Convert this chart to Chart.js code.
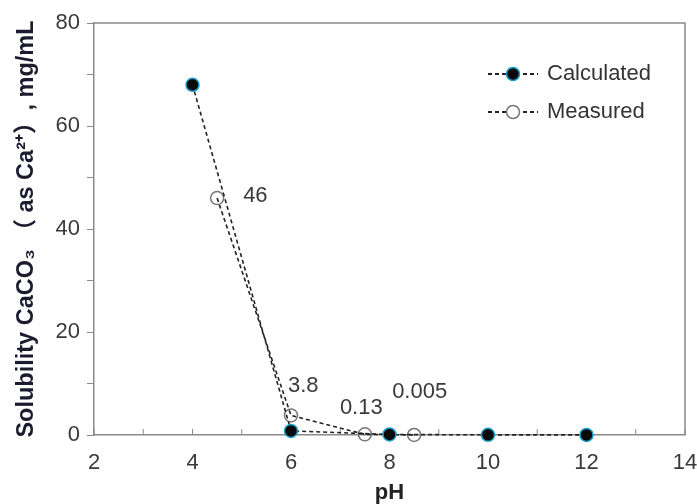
<!DOCTYPE html>
<html>
<head>
<meta charset="utf-8">
<script src="https://cdn.jsdelivr.net/npm/chart.js@4.4.0/dist/chart.umd.min.js"></script>
<style>
html,body{margin:0;padding:0;background:#fff;}
#wrap{width:697px;height:504px;position:relative;}
</style>
</head>
<body>
<div id="wrap"><canvas id="c" width="697" height="504"></canvas></div>
<script>
// ---- data ----
const calcPH = [4, 6, 8, 10, 12];
const calcSol = [68, 0.8, 0.1, 0.03, 0.02];
const measPH = [4.5, 6, 7.5, 8.5];
const measSol = [46, 3.8, 0.13, 0.005];
const measLabels = ['46', '3.8', '0.13', '0.005'];
const seriesNames = ['Calculated', 'Measured'];
const yTickValues = [0, 20, 40, 60, 80];
const xTickValues = [2, 4, 6, 8, 10, 12, 14];

const FONT = "'Liberation Sans', Arial, 'Noto Sans CJK SC', sans-serif";
const TXT = '#3a3a3a';
const AXIS = '#8a8a8a';

const toXY = (xs, ys) => xs.map((x, i) => ({x: x, y: ys[i]}));

// label offsets (dx, dy from point, left-aligned text centre)
const labelOffsets = [[26, -2], [-3, -29], [-25, -26], [-22, -43]];

const labelPlugin = {
  id: 'pointLabels',
  afterDatasetsDraw(chart) {
    const meta = chart.getDatasetMeta(1);
    const ctx = chart.ctx;
    ctx.save();
    ctx.font = '22px ' + FONT;
    ctx.fillStyle = TXT;
    ctx.textAlign = 'left';
    ctx.textBaseline = 'middle';
    meta.data.forEach((pt, i) => {
      const o = labelOffsets[i];
      ctx.fillText(measLabels[i], pt.x + o[0], pt.y + o[1]);
    });
    ctx.restore();
  }
};

const framePlugin = {
  id: 'frame',
  beforeDatasetsDraw(chart) {
    const a = chart.chartArea, ctx = chart.ctx;
    ctx.save();
    ctx.strokeStyle = AXIS;
    ctx.lineWidth = 1.5;
    ctx.beginPath();
    ctx.moveTo(a.left, a.top); ctx.lineTo(a.right, a.top); ctx.lineTo(a.right, a.bottom);
    ctx.stroke();
    // inward x ticks
    const xs = chart.scales.x;
    ctx.lineWidth = 1;
    xs.ticks.forEach(t => {
      const px = xs.getPixelForValue(t.value);
      ctx.beginPath(); ctx.moveTo(px, a.bottom); ctx.lineTo(px, a.bottom - 6); ctx.stroke();
    });
    ctx.restore();
  }
};

const legendPlugin = {
  id: 'lineLegend',
  afterDraw(chart) {
    const a = chart.chartArea, ctx = chart.ctx;
    ctx.save();
    chart.data.datasets.forEach((ds, i) => {
      const y = a.top + 51 + i * 38;
      const x0 = a.right - 197, x1 = a.right - 147, xm = (x0 + x1) / 2;
      ctx.strokeStyle = '#222';
      ctx.lineWidth = 1.8;
      ctx.setLineDash([4, 3]);
      ctx.beginPath(); ctx.moveTo(x0, y); ctx.lineTo(x1, y); ctx.stroke();
      ctx.setLineDash([]);
      ctx.beginPath(); ctx.arc(xm, y, 6.5, 0, Math.PI * 2);
      if (ds.pointBackgroundColor !== 'rgba(0,0,0,0)') { ctx.fillStyle = ds.pointBackgroundColor; ctx.fill(); }
      else { ctx.fillStyle = '#fff'; ctx.fill(); }
      ctx.strokeStyle = ds.pointBorderColor; ctx.lineWidth = ds.pointBorderWidth; ctx.stroke();
      ctx.font = '22px ' + FONT;
      ctx.fillStyle = '#333';
      ctx.textAlign = 'left'; ctx.textBaseline = 'middle';
      ctx.fillText(ds.label, x1 + 9, y);
    });
    ctx.restore();
  }
};

new Chart(document.getElementById('c'), {
  type: 'line',
  data: {
    datasets: [
      {
        label: seriesNames[0],
        data: toXY(calcPH, calcSol),
        borderColor: '#222',
        borderWidth: 1.6,
        borderDash: [4, 3],
        pointRadius: 6.5,
        pointBackgroundColor: '#0a0a0a',
        pointBorderColor: '#1aa0c8',
        pointBorderWidth: 1.5,
        tension: 0,
        clip: false,
        order: 1
      },
      {
        label: seriesNames[1],
        data: toXY(measPH, measSol),
        borderColor: '#222',
        borderWidth: 1.6,
        borderDash: [4, 3],
        pointRadius: 6.5,
        pointBackgroundColor: 'rgba(0,0,0,0)',
        pointBorderColor: '#777',
        pointBorderWidth: 1.5,
        tension: 0,
        clip: false,
        order: 2
      }
    ]
  },
  options: {
    responsive: false,
    animation: false,
    layout: {padding: {top: 23, right: 12, left: 0, bottom: 0}},
    plugins: {legend: {display: false}, tooltip: {enabled: false}},
    scales: {
      x: {
        type: 'linear',
        min: 2, max: 14,
        afterFit: s => { s.height = 69; s.paddingRight = 0; s.paddingLeft = 0; },
        grid: {display: false},
        border: {display: true, color: AXIS, width: 1.5},
        ticks: {
          stepSize: 1,
          autoSkip: false,
          maxRotation: 0,
          padding: 7,
          color: TXT,
          font: {family: FONT, size: 22},
          callback: v => xTickValues.includes(v) ? String(v) : ''
        },
        title: {
          display: true, text: 'pH', color: '#222',
          font: {family: FONT, size: 22, weight: 'bold', lineHeight: 1},
          padding: {top: 0, bottom: 0}
        }
      },
      y: {
        type: 'linear',
        min: 0, max: 80,
        afterFit: s => { s.width = 94; },
        grid: {display: true, drawOnChartArea: false, drawTicks: true, tickLength: 7, color: AXIS},
        border: {display: true, color: AXIS, width: 1.5},
        ticks: {
          stepSize: 10,
          autoSkip: false,
          padding: 7,
          color: TXT,
          font: {family: FONT, size: 22},
          callback: v => yTickValues.includes(v) ? String(v) : ''
        },
        title: {
          display: true,
          text: 'Solubility CaCO₃ （ as Ca²⁺）, mg/mL',
          color: '#1c1c30',
          font: {family: FONT, size: 23.5, weight: 'bold', lineHeight: 1.2},
          padding: {top: 12, bottom: 0}
        }
      }
    }
  },
  plugins: [framePlugin, labelPlugin, legendPlugin]
});
</script>
</body>
</html>
